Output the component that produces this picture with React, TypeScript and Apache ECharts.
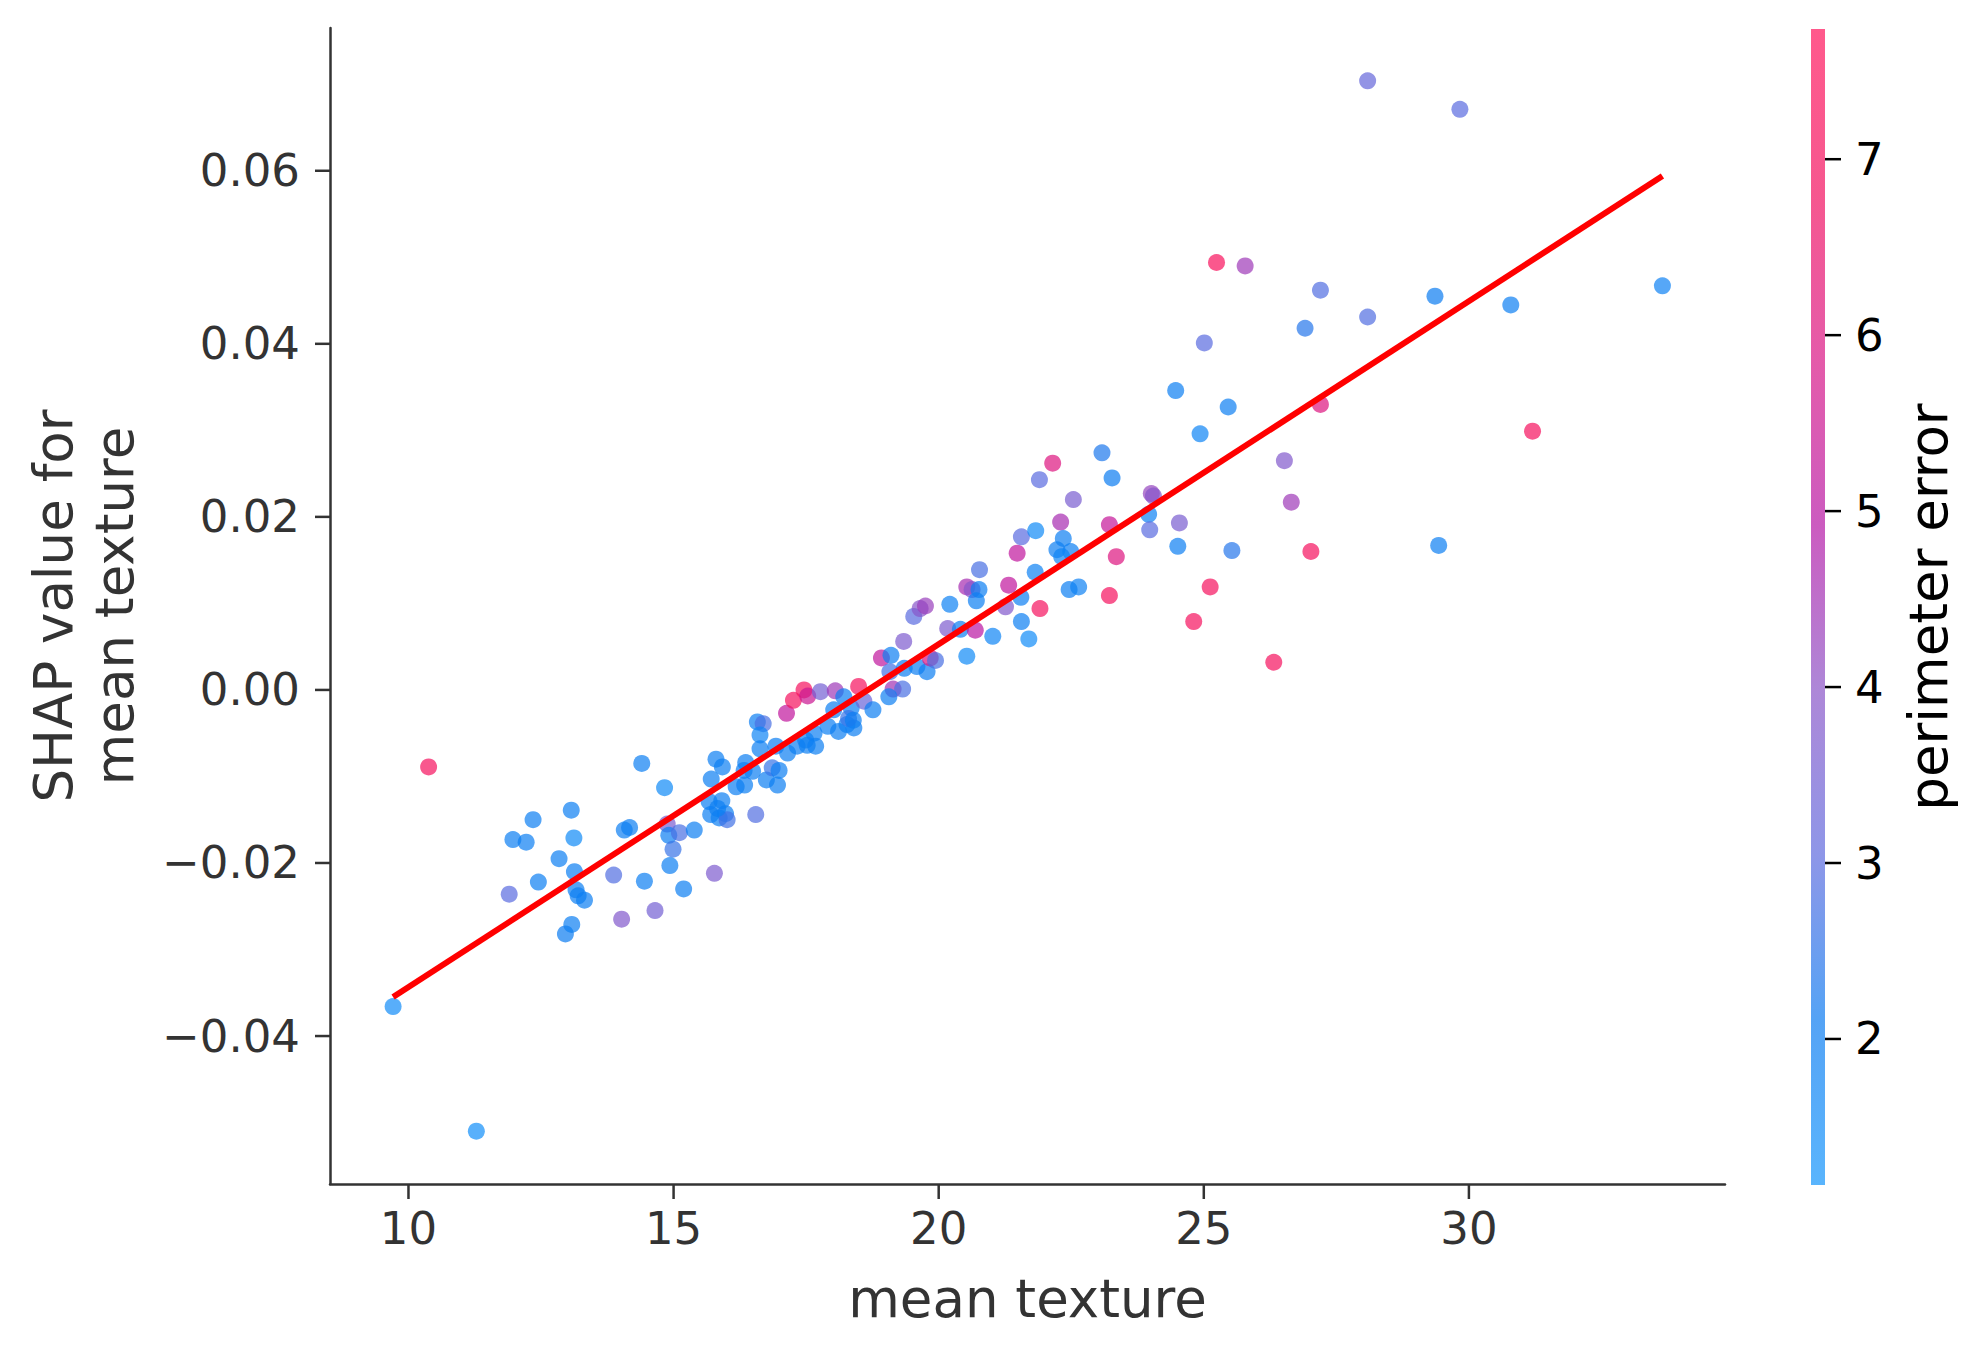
import React, { useEffect, useRef } from "react";
import * as echarts from "echarts";

// ---- data ----
const meanTexture = [
  9.71, 10.38, 11.28, 11.9, 11.97, 12.22, 12.35, 12.45, 12.84, 12.96, 13.07, 13.08, 13.12, 13.13, 13.16, 13.2, 13.32,
  13.87, 14.02, 14.07, 14.17, 14.4, 14.45, 14.65, 14.83, 14.88, 14.91, 14.99, 14.93, 15.11, 15.19, 15.39, 15.77, 16.55,
  15.71, 15.8, 15.92, 15.67, 15.7, 15.86, 15.91, 15.98, 16.01, 15.83, 16.18, 16.34, 16.36, 16.49, 16.33, 16.58, 16.69,
  16.63, 16.63, 16.75, 16.86, 16.96, 16.99, 16.93, 17.15, 17.33, 17.49, 17.65, 17.68, 17.52, 17.13, 17.26, 17.46, 17.53,
  17.77, 18.05, 17.91, 18.11, 18.27, 18.4, 18.02, 18.35, 18.3, 18.39, 18.21, 18.49, 18.59, 18.76, 18.92, 19.1, 19.08,
  19.35, 19.59, 19.78, 19.84, 19.94, 19.14, 19.32, 19.06, 19.34, 19.53, 19.65, 19.75, 20.17, 20.41, 20.21, 20.69, 21.02,
  20.53, 20.53, 20.63, 20.76, 20.71, 20.77, 21.26, 21.32, 21.48, 21.56, 21.55, 21.56, 21.7, 21.82, 21.83, 21.91, 21.9,
  22.15, 22.3, 22.35, 22.23, 22.49, 22.32, 22.46, 22.64, 22.54, 23.08, 23.27, 23.22, 23.35, 23.22, 24.01, 24.05, 23.96,
  23.98, 24.54, 24.51, 24.81, 24.47, 25.01, 24.93, 25.12, 25.24, 25.46, 25.53, 25.78, 26.32, 26.52, 26.65, 26.91, 27.02,
  27.2, 27.2, 28.09, 28.09, 29.36, 29.43, 29.83, 30.79, 31.2, 33.65,
];
const shapValues = [
  -0.0366, -0.0089, -0.051, -0.0236, -0.0173, -0.0176, -0.015, -0.0222, -0.0195, -0.0282, -0.0139, -0.0271, -0.0171,
  -0.021, -0.0231, -0.0238, -0.0243, -0.0214, -0.0265, -0.0162, -0.0159, -0.0085, -0.0221, -0.0255, -0.0113, -0.0155,
  -0.0168, -0.0184, -0.0203, -0.0165, -0.023, -0.0162, -0.0212, -0.0144, -0.0103, -0.008, -0.0089, -0.0129, -0.0144,
  -0.0148, -0.0128, -0.0143, -0.015, -0.0137, -0.0112, -0.011, -0.0084, -0.0094, -0.0093, -0.0037, -0.0039, -0.0052,
  -0.0068, -0.0104, -0.009, -0.011, -0.0093, -0.0065, -0.0073, -0.0065, -0.0058, -0.005, -0.0065, -0.0064, -0.0027,
  -0.0012, 0.0, -0.0007, -0.0002, -0.0001, -0.0042, -0.0048, -0.004, -0.0044, -0.0023, -0.0021, -0.0033, -0.0035,
  -0.0008, 0.0004, -0.0013, -0.0023, 0.0037, 0.004, 0.0021, 0.0025, 0.0027, 0.0021, 0.0037, 0.0034, 0.0001, 0.0001,
  -0.0008, 0.0056, 0.0085, 0.0094, 0.0097, 0.0071, 0.007, 0.0099, 0.0069, 0.0062, 0.0039, 0.0119, 0.0116, 0.0116,
  0.0103, 0.0139, 0.0096, 0.0121, 0.0158, 0.0177, 0.0107, 0.0079, 0.0059, 0.0136, 0.0184, 0.0094, 0.0243, 0.0262,
  0.0194, 0.0175, 0.0162, 0.016, 0.0154, 0.0116, 0.0119, 0.022, 0.0274, 0.0245, 0.0191, 0.0154, 0.0109, 0.0227, 0.0224,
  0.0203, 0.0185, 0.0193, 0.0166, 0.0079, 0.0346, 0.0401, 0.0296, 0.0119, 0.0494, 0.0327, 0.0161, 0.049, 0.0032, 0.0265,
  0.0217, 0.0418, 0.016, 0.0462, 0.033, 0.0431, 0.0704, 0.0455, 0.0167, 0.0671, 0.0445, 0.0299, 0.0467,
];
const perimeterError = [
  1.5, 7.0, 1.4, 3.0, 2.0, 2.0, 2.0, 2.0, 2.0, 2.1, 2.0, 2.0, 1.6, 2.0, 2.0, 2.0, 2.0, 2.9, 3.8, 2.0, 2.0, 2.0, 2.0,
  3.5, 1.6, 3.6, 2.0, 2.6, 2.0, 2.8, 2.0, 2.0, 3.7, 2.9, 2.0, 2.0, 2.0, 2.0, 2.0, 2.0, 2.0, 2.0, 2.7, 2.0, 2.0, 2.0,
  2.0, 2.0, 2.0, 2.0, 2.8, 1.8, 2.0, 2.0, 2.6, 2.0, 2.0, 2.0, 2.0, 2.0, 2.0, 2.0, 2.0, 2.0, 5.2, 7.0, 7.0, 5.5, 3.5,
  4.4, 2.0, 2.0, 2.0, 2.0, 2.0, 2.0, 2.6, 2.0, 2.0, 7.0, 3.3, 2.0, 5.2, 2.0, 2.7, 2.0, 2.0, 2.0, 6.0, 2.8, 4.5, 2.8,
  2.0, 3.7, 3.0, 3.9, 4.3, 3.7, 2.0, 1.9, 5.0, 1.8, 1.6, 4.6, 3.9, 2.0, 2.0, 2.8, 3.8, 5.2, 5.2, 3.0, 2.0, 2.0, 1.5,
  1.9, 1.6, 7.0, 3.0, 6.0, 4.6, 2.0, 2.0, 2.0, 1.8, 2.0, 1.9, 3.6, 2.3, 2.1, 5.3, 6.0, 7.0, 4.2, 3.9, 1.9, 3.0, 3.6,
  2.0, 7.0, 2.0, 3.0, 1.8, 7.0, 7.2, 2.0, 2.4, 4.4, 7.0, 3.8, 4.4, 2.4, 7.0, 2.9, 6.0, 2.9, 3.2, 2.1, 2.0, 3.0, 2.0,
  7.0, 1.9,
];
const fitLineX = [9.71, 33.65];
const fitLineY = [-0.0355, 0.0594];
const xTicks = [10, 15, 20, 25, 30];
const yTicks = [-0.04, -0.02, 0, 0.02, 0.04, 0.06];
const cbTicks = [2, 3, 4, 5, 6, 7];
const xMin = 8.52;
const xMax = 34.83;
const yMin = -0.0571;
const yMax = 0.0765;
const colorMin = 1.17;
const colorMax = 7.74;
const colormap = ["#1395fc", "#0c7cf1", "#5e6ade", "#8b54c7", "#b616a5", "#d91585", "#f2105f", "#ff135b"];

// ---- layout ----
const W = 1982;
const H = 1357;
const G = { left: 330, top: 28, width: 1395, height: 1156 };
const CB = { left: 1811, top: 29, width: 14, height: 1156 };
const FONT = "DejaVu Sans";
const TICK_LEN = 15;
const CB_TICK_LEN = 16;

function fmtY(v: number) {
  const s = Math.abs(v).toFixed(2);
  return v < -1e-9 ? "\u2212" + s : s;
}

// tick marks drawn through the axes' own scales (custom series)
function tickSeries(
  xAxisIndex: number,
  yAxisIndex: number,
  data: number[][],
  dx: number,
  dy: number,
  color: string,
  width: number
) {
  return {
    type: "custom",
    xAxisIndex,
    yAxisIndex,
    data,
    clip: false,
    silent: true,
    z: 4,
    renderItem: (_params: any, api: any) => {
      const p = api.coord([api.value(0), api.value(1)]);
      return {
        type: "line",
        shape: { x1: p[0], y1: p[1], x2: p[0] + dx, y2: p[1] + dy },
        style: { stroke: color, lineWidth: width },
      };
    },
  };
}

export default function App() {
  const ref = useRef<HTMLDivElement>(null);
  useEffect(() => {
    if (!ref.current) return;
    const chart = echarts.init(ref.current, undefined, { renderer: "svg" });
    const points = meanTexture.map((x, i) => [x, shapValues[i], perimeterError[i]]);
    const line = fitLineX.map((x, i) => [x, fitLineY[i]]);
    const stops = colormap.map((c, i) => ({ offset: i / (colormap.length - 1), color: c }));
    chart.setOption({
      animation: false,
      backgroundColor: "#ffffff",
      textStyle: { fontFamily: FONT },
      grid: [
        { ...G, outerBoundsMode: "none" },
        { ...CB, outerBoundsMode: "none" },
      ],
      xAxis: [
        {
          type: "value",
          gridIndex: 0,
          min: xMin,
          max: xMax,
          axisLine: { show: true, onZero: false, lineStyle: { color: "#333333", width: 2.5 } },
          axisTick: { show: false },
          axisLabel: { color: "#333333", fontSize: 45, fontFamily: FONT, margin: 22, customValues: xTicks },
          splitLine: { show: false },
        },
        { type: "value", gridIndex: 1, show: false, min: -1, max: 0 },
      ],
      yAxis: [
        {
          type: "value",
          gridIndex: 0,
          min: yMin,
          max: yMax,
          axisLine: { show: true, onZero: false, lineStyle: { color: "#333333", width: 2.5 } },
          axisTick: { show: false },
          axisLabel: {
            color: "#333333",
            fontSize: 45,
            fontFamily: FONT,
            margin: 30,
            customValues: yTicks,
            formatter: (v: number) => fmtY(v),
          },
          splitLine: { show: false },
        },
        {
          type: "value",
          gridIndex: 1,
          position: "right",
          min: colorMin,
          max: colorMax,
          axisLine: { show: false, onZero: false },
          axisTick: { show: false },
          axisLabel: { color: "#000000", fontSize: 45, fontFamily: FONT, margin: 30, customValues: cbTicks },
          splitLine: { show: false },
        },
      ],
      visualMap: {
        type: "continuous",
        show: false,
        seriesIndex: 0,
        dimension: 2,
        min: colorMin,
        max: colorMax,
        inRange: { color: colormap },
      },
      series: [
        {
          type: "scatter",
          xAxisIndex: 0,
          yAxisIndex: 0,
          data: points,
          symbolSize: 17,
          itemStyle: { opacity: 0.7, borderWidth: 0 },
          z: 2,
        },
        {
          type: "line",
          xAxisIndex: 0,
          yAxisIndex: 0,
          data: line,
          symbol: "none",
          lineStyle: { color: "#ff0000", width: 6 },
          z: 3,
        },
        tickSeries(0, 0, xTicks.map((v) => [v, yMin]), 0, TICK_LEN, "#333333", 2.5),
        tickSeries(0, 0, yTicks.map((v) => [xMin, v]), -TICK_LEN, 0, "#333333", 2.5),
        tickSeries(1, 1, cbTicks.map((v) => [0, v]), CB_TICK_LEN, 0, "#000000", 2.5),
      ],
      graphic: [
        {
          type: "rect",
          shape: { x: CB.left, y: CB.top, width: CB.width, height: CB.height },
          style: {
            fill: { type: "linear", x: 0, y: 1, x2: 0, y2: 0, colorStops: stops },
            opacity: 0.7,
          },
          z: 1,
        },
        {
          type: "text",
          x: G.left + G.width / 2,
          y: 1298,
          style: {
            text: "mean texture",
            fill: "#333333",
            font: `53px '${FONT}'`,
            textAlign: "center",
            textVerticalAlign: "middle",
          },
        },
        {
          type: "text",
          x: 84,
          y: G.top + G.height / 2,
          rotation: Math.PI / 2,
          style: {
            text: "SHAP value for\nmean texture",
            fill: "#333333",
            font: `53px '${FONT}'`,
            lineHeight: 61,
            textAlign: "center",
            textVerticalAlign: "middle",
          },
        },
        {
          type: "text",
          x: 1928,
          y: CB.top + CB.height / 2,
          rotation: Math.PI / 2,
          style: {
            text: "perimeter error",
            fill: "#000000",
            font: `53px '${FONT}'`,
            textAlign: "center",
            textVerticalAlign: "middle",
          },
        },
      ],
    });
    return () => chart.dispose();
  }, []);
  return (
    <div
      ref={ref}
      style={{ position: "absolute", left: 0, top: 0, width: W, height: H, background: "#fff" }}
    />
  );
}
